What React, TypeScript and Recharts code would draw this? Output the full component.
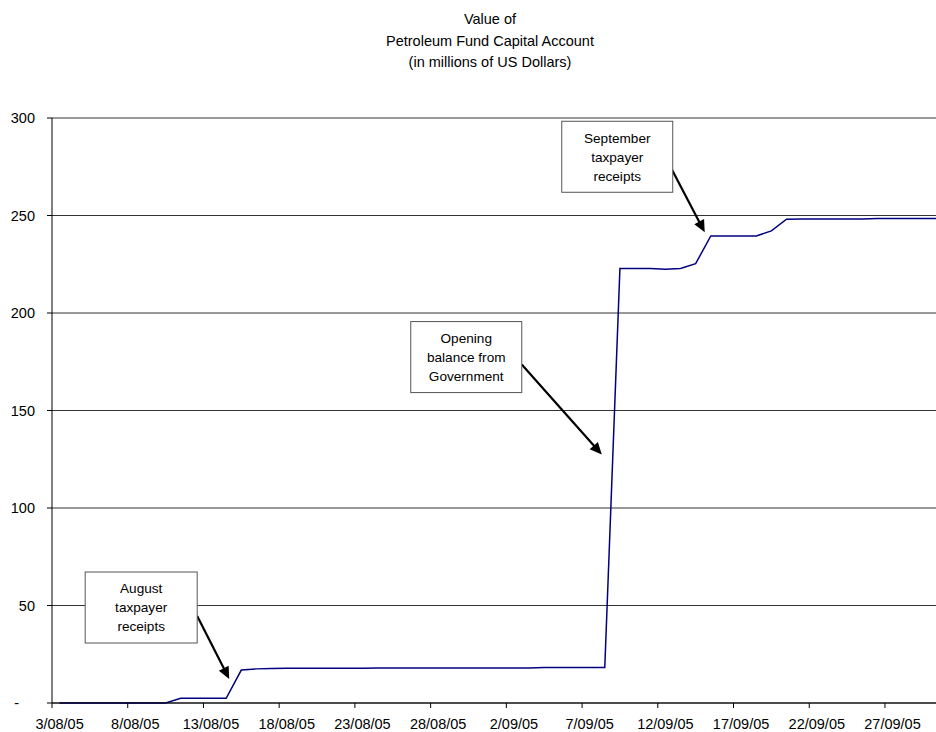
import React from 'react';
import { LineChart, Line, XAxis, YAxis, CartesianGrid, ReferenceDot } from 'recharts';

const dates = [
  '3/08/05', '4/08/05', '5/08/05', '6/08/05', '7/08/05', '8/08/05', '9/08/05', '10/08/05',
  '11/08/05', '12/08/05', '13/08/05', '14/08/05', '15/08/05', '16/08/05', '17/08/05', '18/08/05',
  '19/08/05', '20/08/05', '21/08/05', '22/08/05', '23/08/05', '24/08/05', '25/08/05', '26/08/05',
  '27/08/05', '28/08/05', '29/08/05', '30/08/05', '31/08/05', '1/09/05', '2/09/05', '3/09/05',
  '4/09/05', '5/09/05', '6/09/05', '7/09/05', '8/09/05', '9/09/05', '10/09/05', '11/09/05',
  '12/09/05', '13/09/05', '14/09/05', '15/09/05', '16/09/05', '17/09/05', '18/09/05', '19/09/05',
  '20/09/05', '21/09/05', '22/09/05', '23/09/05', '24/09/05', '25/09/05', '26/09/05', '27/09/05',
  '28/09/05', '29/09/05', '30/09/05',
];

const values = [
  0, 0, 0, 0, 0, 0, 0, 0,
  2.4, 2.4, 2.4, 2.4,
  16.9, 17.5, 17.7,
  17.8, 17.8, 17.8, 17.8, 17.8, 17.8,
  17.9, 17.9, 17.9, 17.9, 17.9, 17.9,
  18.0, 18.0, 18.0, 18.0, 18.0,
  18.2, 18.2, 18.2, 18.2, 18.2,
  222.8, 222.8, 222.8, 222.5, 222.8,
  225.3,
  239.5, 239.5, 239.5, 239.5,
  242.1,
  248.1,
  248.2, 248.2, 248.2, 248.2, 248.2,
  248.5, 248.5, 248.5, 248.5, 248.5,
];

const xTickDays = [0, 5, 10, 15, 20, 25, 30, 35, 40, 45, 50, 55];
const yTicks = [0, 50, 100, 150, 200, 250, 300];
const titleLines = ['Value of', 'Petroleum Fund Capital Account', '(in millions of US Dollars)'];

// annotation anchors (arrow tip, in data units)
const noteDays = [11.2, 35.8, 42.6];
const noteValues = [12.3, 127.4, 241.4];
const noteTexts = [
  ['August', 'taxpayer', 'receipts'],
  ['Opening', 'balance from', 'Government'],
  ['September', 'taxpayer', 'receipts'],
];

// layout
const W = 936;
const H = 732;
const M_LEFT = 52;
const M_TOP = 118;
const X_AXIS_H = 29;
const PLOT_W = W - M_LEFT;
const PLOT_BOTTOM = H - X_AXIS_H;
const X_MIN = -0.5;
const X_MAX = 57.87;
const HALF_DAY_PX = PLOT_W / (X_MAX - X_MIN) / 2;
const FONT = '"Liberation Sans", Arial, Helvetica, sans-serif';
const FS = 14.5;
const FS_NOTE = 13.6;

// callout offsets relative to the arrow tip: [startDx, startDy, boxLeft, boxRight, boxTop, boxBottom]
const noteLayout = [
  [-32, -63, -144, -32, -107, -36],
  [-80, -90, -191, -80, -133, -62],
  [-33, -63, -143, -32, -111, -40],
];

const data = dates.map((d, i) => ({ day: i, date: d, value: values[i] }));

const XTick = (props: any) => {
  const { x, payload } = props;
  const label = dates[payload.value];
  return (
    <g>
      <line x1={x - HALF_DAY_PX} x2={x - HALF_DAY_PX} y1={PLOT_BOTTOM} y2={PLOT_BOTTOM + 5} stroke="#000" strokeWidth={1} />
      <text x={x} y={H - 3} textAnchor="middle" fontFamily={FONT} fontSize={FS} fill="#000">
        {label}
      </text>
    </g>
  );
};

const YTick = (props: any) => {
  const { y, payload } = props;
  const v = payload.value;
  return (
    <g>
      <line x1={M_LEFT - 5} x2={M_LEFT} y1={y} y2={y} stroke="#000" strokeWidth={1} />
      <text
        x={v === 0 ? 19 : 35}
        y={y + 5}
        textAnchor="end"
        fontFamily={FONT}
        fontSize={FS}
        fill="#000"
      >
        {v === 0 ? '-' : String(v)}
      </text>
    </g>
  );
};

const makeCallout = (idx: number) => (props: any) => {
  const { cx, cy } = props;
  if (cx == null || cy == null) return <g />;
  const [sdx, sdy, bl, br, bt, bb] = noteLayout[idx];
  const sx = cx + sdx;
  const sy = cy + sdy;
  const dx = cx - sx;
  const dy = cy - sy;
  const len = Math.sqrt(dx * dx + dy * dy);
  const ux = dx / len;
  const uy = dy / len;
  const nx = -uy;
  const ny = ux;
  const L = 12;
  const hw = 5.5;
  const bx = cx - ux * L;
  const by = cy - uy * L;
  const head = `${cx},${cy} ${bx + nx * hw},${by + ny * hw} ${bx - nx * hw},${by - ny * hw}`;
  const boxCx = cx + (bl + br) / 2;
  const boxCy = cy + (bt + bb) / 2;
  const lines = noteTexts[idx];
  return (
    <g>
      <line x1={sx} y1={sy} x2={bx + ux * 2} y2={by + uy * 2} stroke="#000" strokeWidth={2.2} />
      <polygon points={head} fill="#000" />
      <rect x={cx + bl} y={cy + bt} width={br - bl} height={bb - bt} fill="#fff" stroke="#555" strokeWidth={1} />
      {lines.map((t, i) => (
        <text
          key={i}
          x={boxCx}
          y={boxCy + (i - 1) * 19 + 4.8}
          textAnchor="middle"
          fontFamily={FONT}
          fontSize={FS_NOTE}
          fill="#000"
        >
          {t}
        </text>
      ))}
    </g>
  );
};

export default function App() {
  return (
    <div style={{ position: 'absolute', left: 0, top: 0, width: W, height: H, background: '#fff', fontFamily: FONT }}>
      <div
        style={{
          position: 'absolute',
          left: 290,
          top: 9,
          width: 400,
          textAlign: 'center',
          fontSize: FS,
          lineHeight: '21.5px',
          color: '#000',
        }}
      >
        {titleLines.map((t, i) => (
          <div key={i}>{t}</div>
        ))}
      </div>
      <LineChart
        width={W}
        height={H}
        data={data}
        margin={{ top: M_TOP, right: 0, bottom: 0, left: 0 }}
      >
        <CartesianGrid horizontal vertical={false} stroke="#333" strokeWidth={1} />
        <XAxis
          dataKey="day"
          type="number"
          domain={[X_MIN, X_MAX]}
          allowDataOverflow
          ticks={xTickDays}
          interval={0}
          tick={<XTick />}
          tickLine={false}
          axisLine={{ stroke: '#000', strokeWidth: 1 }}
          height={X_AXIS_H}
        />
        <YAxis
          type="number"
          domain={[0, 300]}
          ticks={yTicks}
          interval={0}
          width={M_LEFT}
          tick={<YTick />}
          tickLine={false}
          axisLine={{ stroke: '#000', strokeWidth: 1 }}
        />
        <Line
          type="linear"
          dataKey="value"
          stroke="#000080"
          strokeWidth={1.5}
          dot={false}
          activeDot={false}
          isAnimationActive={false}
        />
        {noteDays.map((d, i) => (
          <ReferenceDot key={i} x={d} y={noteValues[i]} r={0} shape={makeCallout(i)} ifOverflow="visible" />
        ))}
      </LineChart>
    </div>
  );
}
